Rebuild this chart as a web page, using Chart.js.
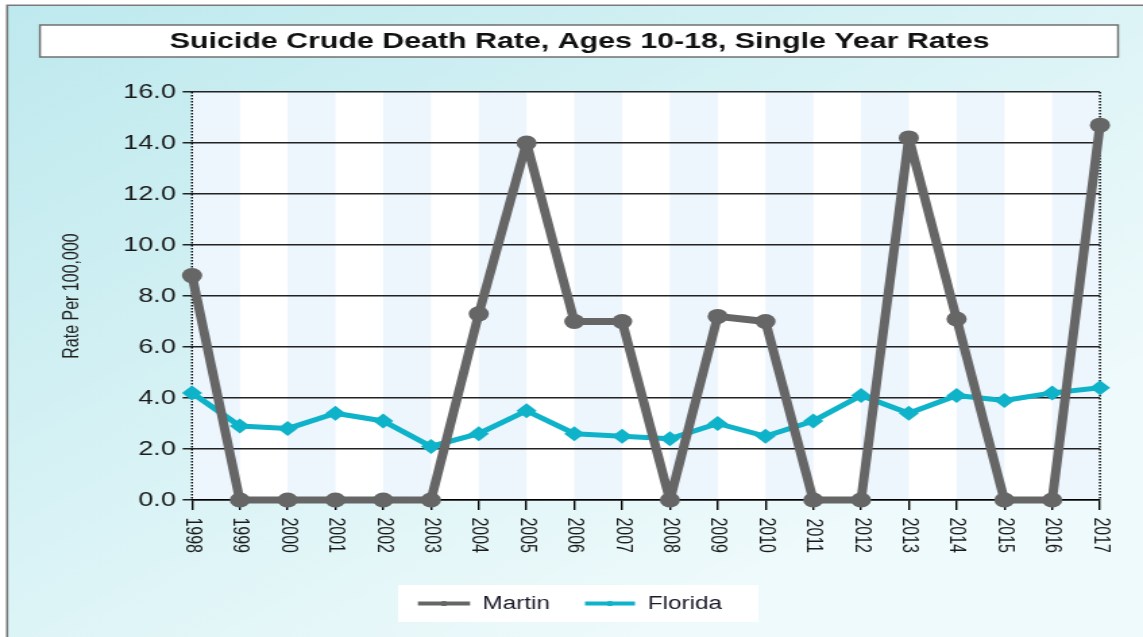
<!DOCTYPE html>
<html>
<head>
<meta charset="utf-8">
<script src="https://cdn.jsdelivr.net/npm/chart.js@4.4.0/dist/chart.umd.min.js"></script>
<style>
  html, body { margin: 0; padding: 0; background: #fff; overflow: hidden; }
  /* the source picture is stretched sideways, so draw narrow and stretch it */
  #wrap { width: 847px; height: 637px; transform: scaleX(1.34947); transform-origin: 0 0; }
</style>
</head>
<body>
<div id="wrap"><canvas id="chart" width="847" height="637"></canvas></div>
<script>
const years = ['1998', '1999', '2000', '2001', '2002', '2003', '2004', '2005', '2006', '2007',
               '2008', '2009', '2010', '2011', '2012', '2013', '2014', '2015', '2016', '2017'];
const martin = [8.8, 0, 0, 0, 0, 0, 7.3, 14.0, 7.0, 7.0, 0, 7.2, 7.0, 0, 0, 14.2, 7.1, 0, 0, 14.7];
const florida = [4.2, 2.9, 2.8, 3.4, 3.1, 2.1, 2.6, 3.5, 2.6, 2.5, 2.4, 3.0, 2.5, 3.1, 4.1, 3.4, 4.1, 3.9, 4.2, 4.4];
const yTickValues = [0, 2, 4, 6, 8, 10, 12, 14, 16];

const chartTitle = 'Suicide Crude Death Rate, Ages 10-18, Single Year Rates';
const yTitle = 'Rate Per 100,000';

const FONT = "'Liberation Sans', Arial, sans-serif";
const MARTIN_COLOR = '#666666';
const FLORIDA_COLOR = '#0fb3c9';

function dottedV(ctx, x, y0, y1) {
  ctx.save();
  ctx.strokeStyle = '#000';
  ctx.lineWidth = 1.4;
  ctx.setLineDash([1.5, 1.5]);
  ctx.beginPath();
  ctx.moveTo(x, y0);
  ctx.lineTo(x, y1);
  ctx.stroke();
  ctx.restore();
}

const backdrop = {
  id: 'backdrop',
  beforeDraw(chart) {
    const ctx = chart.ctx;
    const W = chart.width, H = chart.height;
    const area = chart.chartArea;
    const x = chart.scales.x;
    ctx.save();
    ctx.fillStyle = '#ffffff';
    ctx.fillRect(0, 0, W, H);
    const g = ctx.createLinearGradient(0, 0, W * 0.55, H);
    g.addColorStop(0, '#bde9ee');
    g.addColorStop(1, '#eefafb');
    ctx.fillStyle = g;
    ctx.fillRect(5, 5, W - 5, H - 5);
    ctx.strokeStyle = '#7a7a7a';
    ctx.lineWidth = 1.6;
    ctx.beginPath();
    ctx.moveTo(5.3, H); ctx.lineTo(5.3, 5.3); ctx.lineTo(W, 5.3);
    ctx.stroke();

    // title box
    ctx.fillStyle = '#ffffff';
    ctx.fillRect(29.6, 25, 798.9, 32);
    ctx.strokeStyle = '#707070';
    ctx.lineWidth = 1.5;
    ctx.strokeRect(29.6, 25, 798.9, 32);
    ctx.fillStyle = '#111111';
    ctx.font = 'bold 22.5px ' + FONT;
    ctx.textAlign = 'center';
    ctx.textBaseline = 'middle';
    ctx.fillText(chartTitle, 429.5, 41.5);

    // plot background with alternating bands
    ctx.fillStyle = '#ffffff';
    ctx.fillRect(area.left, area.top, area.right - area.left, area.bottom - area.top);
    ctx.fillStyle = '#edf5fd';
    for (let i = 0; i < years.length - 1; i += 2) {
      const a = x.getPixelForValue(i), b = x.getPixelForValue(i + 1);
      ctx.fillRect(a, area.top, b - a, area.bottom - area.top);
    }
    ctx.restore();
  },
  beforeDatasetsDraw(chart) {
    const area = chart.chartArea;
    const x = chart.scales.x;
    dottedV(chart.ctx, x.getPixelForValue(0), area.top, area.bottom);
    dottedV(chart.ctx, x.getPixelForValue(years.length - 1), area.top, area.bottom);
  },
  afterDraw(chart) {
    const ctx = chart.ctx;
    ctx.save();
    ctx.fillStyle = '#ffffff';
    ctx.fillRect(295, 585, 267, 37);
    const items = [
      { ds: chart.data.datasets[0], x0: 309.7, x1: 348.3, tx: 357.5 },
      { ds: chart.data.datasets[1], x0: 433.5, x1: 470.5, tx: 480 }
    ];
    const cy = 603.5;
    ctx.font = '18px ' + FONT;
    ctx.textBaseline = 'middle';
    ctx.textAlign = 'left';
    items.forEach(it => {
      ctx.strokeStyle = it.ds.borderColor;
      ctx.lineWidth = 4;
      ctx.beginPath();
      ctx.moveTo(it.x0, cy);
      ctx.lineTo(it.x1, cy);
      ctx.stroke();
      ctx.fillStyle = it.ds.borderColor;
      ctx.beginPath();
      ctx.arc((it.x0 + it.x1) / 2, cy, 2.6, 0, Math.PI * 2);
      ctx.fill();
      ctx.fillStyle = '#1a1a2a';
      ctx.fillText(it.ds.label, it.tx, cy + 1);
    });
    ctx.restore();
  }
};

new Chart(document.getElementById('chart'), {
  type: 'line',
  data: {
    labels: years,
    datasets: [
      {
        label: 'Martin',
        data: martin,
        borderColor: MARTIN_COLOR,
        backgroundColor: MARTIN_COLOR,
        borderWidth: 7,
        borderJoinStyle: 'round',
        pointStyle: 'circle',
        pointRadius: 7.5,
        pointBorderWidth: 0,
        tension: 0,
        clip: false
      },
      {
        label: 'Florida',
        data: florida,
        borderColor: FLORIDA_COLOR,
        backgroundColor: FLORIDA_COLOR,
        borderWidth: 5,
        borderJoinStyle: 'round',
        pointStyle: 'rectRot',
        pointRadius: 7.5,
        pointBorderWidth: 0,
        tension: 0,
        clip: false
      }
    ]
  },
  options: {
    responsive: false,
    animation: false,
    devicePixelRatio: 1,
    layout: { padding: { left: 0, right: 31.9, top: 92, bottom: 0 } },
    plugins: {
      legend: { display: false },
      title: { display: false },
      tooltip: { enabled: false }
    },
    scales: {
      x: {
        type: 'category',
        offset: false,
        grid: { display: true, drawOnChartArea: false, drawTicks: true, tickLength: 10, color: '#000', lineWidth: 1.4 },
        border: { display: true, color: '#000', width: 1.5 },
        ticks: {
          autoSkip: false,
          minRotation: -90,
          maxRotation: -90,
          // labels read top-down and end at the anchor, so push the anchor down by their length
          padding: 43,
          color: '#1a1a1a',
          font: { family: FONT, size: 16 }
        },
        afterFit(scale) { scale.height = 137; }
      },
      y: {
        min: 0,
        max: 16,
        afterBuildTicks(scale) { scale.ticks = yTickValues.map(v => ({ value: v })); },
        grid: { color: '#222', lineWidth: 1.5, drawTicks: true, tickLength: 7 },
        border: { display: false },
        ticks: {
          padding: 5,
          color: '#1a1a1a',
          font: { family: FONT, size: 20 },
          callback: v => Number(v).toFixed(1)
        },
        title: {
          display: true,
          text: yTitle,
          color: '#222',
          font: { family: FONT, size: 16 },
          padding: { top: 44, bottom: 0 }
        },
        afterFit(scale) { scale.width = 142.3; }
      }
    }
  },
  plugins: [backdrop]
});
</script>
</body>
</html>
